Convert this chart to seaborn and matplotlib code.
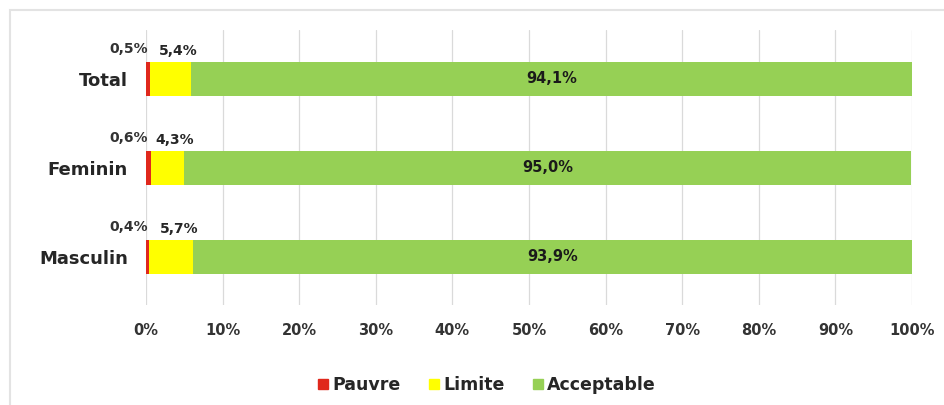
import matplotlib
matplotlib.use("Agg")
import matplotlib.pyplot as plt
from matplotlib.lines import Line2D
from matplotlib.patches import Rectangle
import seaborn as sns
import pandas as pd
import numpy as np

categories = ["Total", "Feminin", "Masculin"]
pauvre = [0.5, 0.6, 0.4]
limite = [5.4, 4.3, 5.7]
acceptable = [94.1, 95.0, 93.9]
tick_values = [0, 10, 20, 30, 40, 50, 60, 70, 80, 90, 100]
tick_labels = ["0%", "10%", "20%", "30%", "40%", "50%", "60%", "70%", "80%", "90%", "100%"]
series_names = ["Pauvre", "Limite", "Acceptable"]

def fmt(v):
    return f"{v:.1f}%".replace(".", ",")

sns.set_theme(style="white")
plt.rcParams["font.family"] = ["DejaVu Sans"]
TXT = "#262626"
C_RED = "#E0281C"
C_YEL = "#FFFF00"
C_GRN = "#96D055"

fig = plt.figure(figsize=(9.44, 4.05), dpi=100)
fig.patch.set_facecolor("white")
ax = fig.add_axes([146/944, (405-305)/405, (912-146)/944, 275/405])

df = pd.DataFrame({"cat": categories, "p": pauvre, "l": limite, "a": acceptable})
df["cum_l"] = df["p"] + df["l"]
df["cum_a"] = df["cum_l"] + df["a"]

bw = 0.38
sns.barplot(data=df, x="cum_a", y="cat", color=C_GRN, saturation=1, width=bw, orient="h", ax=ax, zorder=2)
sns.barplot(data=df, x="cum_l", y="cat", color=C_YEL, saturation=1, width=bw, orient="h", ax=ax, zorder=3)
sns.barplot(data=df, x="p", y="cat", color=C_RED, saturation=1, width=bw, orient="h", ax=ax, zorder=4)
for p in ax.patches:
    p.set_linewidth(0)

ax.set_xlim(0, 100)
ax.set_ylim(2.54, -0.55)
ax.set_xticks(tick_values)
ax.set_xticklabels(tick_labels, fontsize=10.5, fontweight="bold", color="#333333")
ax.set_yticks(range(len(categories)))
ax.set_yticklabels(categories, fontsize=13, fontweight="bold", color=TXT)
ax.tick_params(axis="x", length=0, pad=13)
ax.tick_params(axis="y", length=0, pad=13)
ax.set_xlabel("")
ax.set_ylabel("")
ax.grid(axis="x", color="#DADADA", linewidth=0.9)
ax.grid(axis="y", visible=False)
ax.set_axisbelow(True)
for s in ax.spines.values():
    s.set_visible(False)

for i in range(len(categories)):
    top = i - bw / 2
    ax.annotate(fmt(pauvre[i]), xy=(0, top), xytext=(2, 13), textcoords="offset pixels",
                ha="right", va="center", fontsize=10, fontweight="bold", color="#333333")
    ax.annotate(fmt(limite[i]), xy=(pauvre[i] + limite[i] / 2, top), xytext=(8, 11),
                textcoords="offset pixels", ha="center", va="center",
                fontsize=10, fontweight="bold", color=TXT)
    ax.text(pauvre[i] + limite[i] + acceptable[i] / 2, i, fmt(acceptable[i]),
            ha="center", va="center", fontsize=10.5, fontweight="bold", color="#1a1a1a", zorder=5)

handles = [Line2D([], [], marker="s", linestyle="none", markersize=6.5, color=c)
           for c in (C_RED, C_YEL, C_GRN)]
fig.legend(handles, series_names, loc="center", bbox_to_anchor=(487/944, (405-385)/405),
           ncol=3, frameon=False, handlelength=0.6, handletextpad=0.25, columnspacing=1.6,
           prop={"size": 12.5, "weight": "bold"}, labelcolor=TXT)

fig.add_artist(Rectangle((10/944, -0.05), 1.0, (405-10)/405 + 0.05, transform=fig.transFigure,
                         fill=False, edgecolor="#E3E3E3", linewidth=1.5))

fig.savefig("out.png", dpi=100, facecolor="white")
